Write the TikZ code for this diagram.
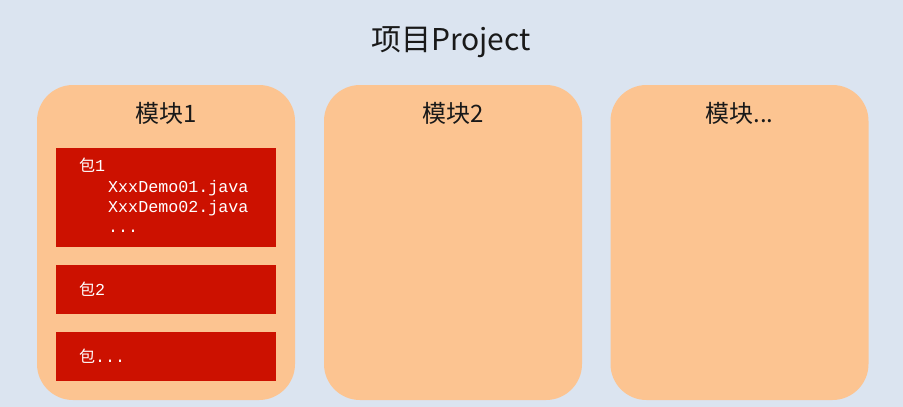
\documentclass[tikz,border=0pt]{standalone}
\usepackage{fontspec}
\setmainfont{Noto Sans CJK SC}
\newfontfamily\cjk{Noto Sans CJK SC}
\newfontfamily\mono{Liberation Mono}
\definecolor{bgc}{RGB}{219,228,240}
\definecolor{modc}{RGB}{252,196,145}
\definecolor{pkgc}{RGB}{204,17,0}
\tikzset{
  module/.style={fill=modc, draw=none, rounded corners=36pt, minimum width=258pt, minimum height=315pt, inner sep=0pt},
  pkg/.style={fill=pkgc, draw=none, minimum width=220pt, inner sep=0pt},
  modlabel/.style={font=\cjk\fontsize{24}{26}\selectfont, text=black!90, inner sep=0pt},
  pkgtext/.style={anchor=base west, inner sep=0pt, text=white, font=\mono\fontsize{16.7}{18}\selectfont},
}
\begin{document}
\begin{tikzpicture}[x=1pt,y=-1pt]
\fill[bgc] (0,0) rectangle (903,407);
\useasboundingbox (0,0) rectangle (903,407);
\node[font=\cjk\fontsize{30}{32}\selectfont, text=black!90, inner sep=0pt] (title) at (451,42) {项目Project};
\node[module] (m1) at (166,242.5) {};
\node[module] (m2) at (453,242.5) {};
\node[module] (m3) at (739.5,242.5) {};
\node[modlabel] (l1) at (166,113) {模块1};
\node[modlabel] (l2) at (453,113) {模块2};
\node[modlabel] (l3) at (739.5,113) {模块...};
\node[pkg, minimum height=99pt] (p1) at (166,197.5) {};
\node[pkg, minimum height=49pt] (p2) at (166,289.5) {};
\node[pkg, minimum height=49pt] (p3) at (166,356.5) {};
\node[pkgtext] (t1) at (79,171) {{\cjk\fontsize{16}{18}\selectfont 包}1};
\node[pkgtext] (t2) at (108,192) {XxxDemo01.java};
\node[pkgtext] (t3) at (108,212) {XxxDemo02.java};
\node[pkgtext] (t4) at (108,232) {...};
\node[pkgtext] (t5) at (79,295) {{\cjk\fontsize{16}{18}\selectfont 包}2};
\node[pkgtext] (t6) at (79,362) {{\cjk\fontsize{16}{18}\selectfont 包}...};
\end{tikzpicture}
\end{document}
